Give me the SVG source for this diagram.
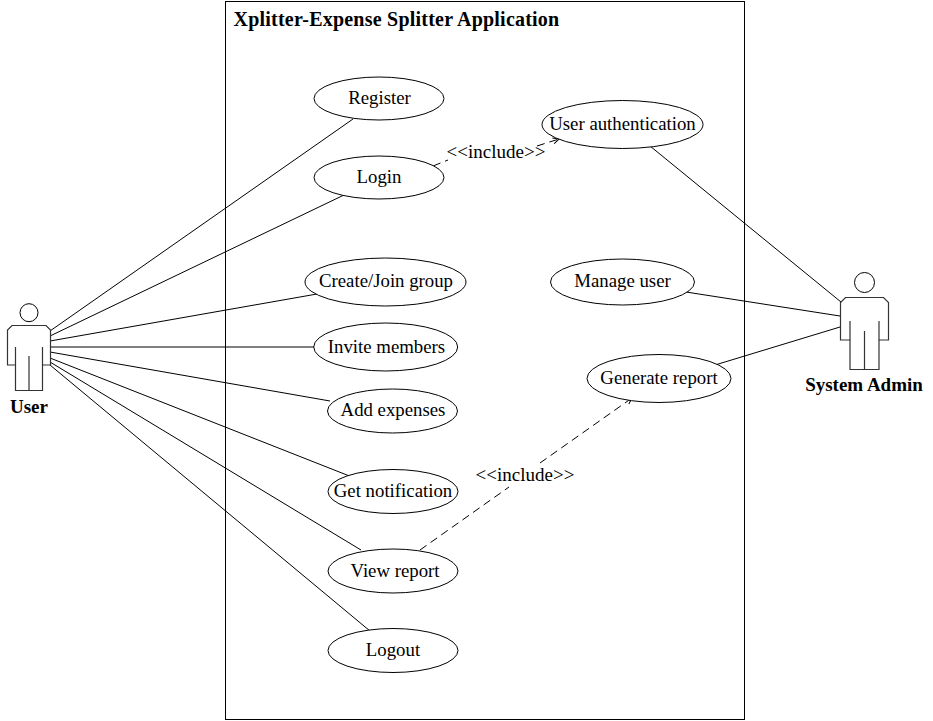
<svg xmlns="http://www.w3.org/2000/svg" width="933" height="721" viewBox="0 0 933 721">
<style>
text{font-family:"Liberation Serif","Times New Roman",serif;font-size:18.8px;fill:#000;text-anchor:middle}
.b{font-weight:bold;font-size:19px}
.bt{font-weight:bold;text-anchor:start;font-size:20px;letter-spacing:.22px}
.i{font-size:19px}
.u{fill:#fff;stroke:#000;stroke-width:1}
.l{fill:none;stroke:#000;stroke-width:1}
.d{fill:none;stroke:#000;stroke-width:1;stroke-dasharray:8 5}
.a{fill:#fff;stroke:#333;stroke-width:1.2}
</style>
<defs>
<marker id="arr" markerUnits="userSpaceOnUse" markerWidth="10" markerHeight="10" refX="8" refY="5" orient="auto"><path d="M2 2L8 5L2 8" fill="none" stroke="#000"/></marker>
</defs>
<g id="system"><rect x="225.500" y="1.500" width="519" height="718" fill="#fff" stroke="#000"/><text class="bt" x="233.500" y="26">Xplitter-Expense Splitter Application</text></g>
<g id="connectors">
<path class="l" d="M50 331L353 119M50 336L344 195M50 341L317 294M50 347H314M50 352L330 401M50 358L352 477M50 362L361 550M50 365L370 631M650 146L841 302M686 292L840 316M715 365L840 327"/>
<path class="d" d="M433 166L448 160"/>
<path class="d" d="M537 146L559 139" marker-end="url(#arr)"/>
<path class="d" d="M420 550L509 487"/>
<path class="d" d="M540 463L632 398" marker-end="url(#arr)"/>
</g>
<g id="register"><ellipse class="u" cx="379" cy="98.500" rx="65" ry="21.500"/><text x="379.500" y="104">Register</text></g>
<g id="login"><ellipse class="u" cx="379" cy="177.500" rx="65" ry="21.500"/><text x="379" y="183">Login</text></g>
<g id="auth"><ellipse class="u" cx="622.500" cy="124.500" rx="80.500" ry="24"/><text x="622.500" y="130">User authentication</text></g>
<g id="create"><ellipse class="u" cx="385.500" cy="282" rx="80.500" ry="24"/><text x="386" y="287">Create/Join group</text></g>
<g id="manage"><ellipse class="u" cx="622.500" cy="282" rx="72" ry="23"/><text x="622.500" y="287">Manage user</text></g>
<g id="invite"><ellipse class="u" cx="385.700" cy="347" rx="72" ry="24"/><text x="386.500" y="353">Invite members</text></g>
<g id="generate"><ellipse class="u" cx="659" cy="378.500" rx="72" ry="24"/><text x="659" y="384">Generate report</text></g>
<g id="expenses"><ellipse class="u" cx="392.500" cy="411" rx="65" ry="22"/><text x="393" y="416">Add expenses</text></g>
<g id="notify"><ellipse class="u" cx="393" cy="491.500" rx="65" ry="22"/><text x="393" y="497">Get notification</text></g>
<g id="view"><ellipse class="u" cx="393" cy="571" rx="65" ry="22"/><text x="395" y="577">View report</text></g>
<g id="logout"><ellipse class="u" cx="393" cy="650.500" rx="65" ry="22"/><text x="393" y="656">Logout</text></g>
<g id="label1"><text class="i" x="496" y="158">&lt;&lt;include&gt;&gt;</text></g>
<g id="label2"><text class="i" x="525" y="481">&lt;&lt;include&gt;&gt;</text></g>
<g id="user">
<circle cx="29" cy="312.700" r="9" fill="#fff" stroke="#000"/>
<path class="a" d="M12 325.500H46L50.500 330V365H42.500V390.500H15.500V365H7.500V330Z"/>
<path class="a" d="M15.500 347V365M42.500 347V365M29 356V390.500"/>
<text class="b" x="29" y="413">User</text></g>
<g id="admin">
<circle cx="864.500" cy="282.500" r="10" fill="#fff" stroke="#000"/>
<path class="a" d="M845.500 297.500H883.500L888.500 302.500V340H879V369.500H850V340H840.500V302.500Z"/>
<path class="a" d="M850 321V340M879 321V340M864.500 331V369.500"/>
<text class="b" x="864" y="391">System Admin</text></g>
</svg>
